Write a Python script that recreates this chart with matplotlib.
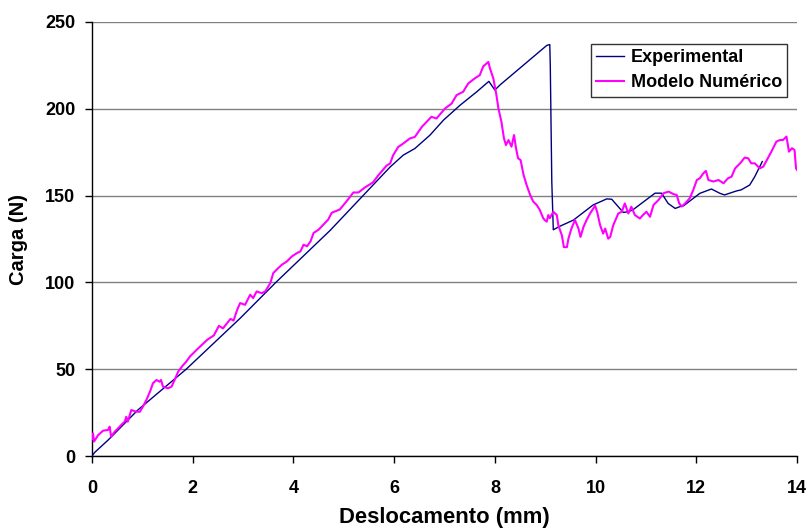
import matplotlib
matplotlib.use("Agg")
import matplotlib.pyplot as plt

# ---- data ----
exp_x = [0, 0.05, 0.32, 0.91, 1.87, 2.94, 3.65, 4.73, 5.92, 6.18, 6.41, 6.71, 6.98,
         7.31, 7.64, 7.88, 8.0, 8.1, 9.03, 9.09, 9.10, 9.13, 9.16, 9.28, 9.56, 9.95,
         10.22, 10.32, 10.45, 10.55, 10.65, 10.74, 11.18, 11.31, 11.44, 11.58, 11.67,
         11.75, 12.07, 12.3, 12.47, 12.56, 12.8, 12.89, 13.06, 13.16, 13.31]
exp_y = [0, 2, 9.2, 26.5, 50, 79.3, 100, 130, 166.5, 173.3, 177.1, 184.8, 193.5,
         202.1, 209.8, 215.8, 210.8, 213.7, 236.5, 237, 225, 158, 130.3, 132.2, 135.9, 144.6,
         148.1, 147.9, 143.6, 140.3, 140.7, 141.8, 151.4, 151.4, 145.5, 142.6, 143.6,
         144.2, 151.3, 153.8, 151.3, 150.4, 152.7, 153.3, 156.1, 160.9, 169.6]

num_x = [0.0, 0.02, 0.04, 0.12, 0.22, 0.32, 0.35, 0.38, 0.45, 0.52, 0.58, 0.65, 0.68,
         0.71, 0.78, 0.88, 0.95, 1.01, 1.08, 1.15, 1.21, 1.28, 1.34, 1.37, 1.41, 1.51,
         1.58, 1.64, 1.71, 1.81, 1.87, 1.95, 2.09, 2.29, 2.42, 2.52, 2.60, 2.75, 2.81,
         2.88, 2.94, 3.04, 3.14, 3.2, 3.27, 3.37, 3.44, 3.54, 3.6, 3.7, 3.77, 3.87,
         3.97, 4.07, 4.14, 4.2, 4.27, 4.34, 4.4, 4.5, 4.53, 4.69, 4.76, 4.92, 5.06,
         5.19, 5.29, 5.42, 5.58, 5.68, 5.85, 5.92, 5.98, 6.08, 6.18, 6.31, 6.41, 6.55,
         6.74, 6.84, 7.01, 7.14, 7.24, 7.37, 7.47, 7.6, 7.7, 7.77, 7.87, 7.9, 7.97,
         8.03, 8.07, 8.13, 8.18, 8.22, 8.27, 8.33, 8.38, 8.42, 8.46, 8.51, 8.57, 8.63,
         8.7, 8.76, 8.83, 8.89, 8.96, 8.99, 9.03, 9.06, 9.09, 9.16, 9.23, 9.26, 9.33,
         9.37, 9.43, 9.46, 9.52, 9.59, 9.66, 9.7, 9.76, 9.82, 9.89, 9.99, 10.03, 10.09,
         10.15, 10.19, 10.25, 10.29, 10.35, 10.45, 10.52, 10.58, 10.65, 10.71, 10.78,
         10.88, 10.94, 11.01, 11.08, 11.15, 11.25, 11.35, 11.45, 11.55, 11.61, 11.66,
         11.71, 11.78, 11.87, 11.94, 12.01, 12.07, 12.14, 12.19, 12.24, 12.34, 12.44,
         12.54, 12.63, 12.7, 12.77, 12.87, 12.96, 13.03, 13.09, 13.16, 13.26, 13.33,
         13.42, 13.49, 13.59, 13.66, 13.72, 13.79, 13.84, 13.9, 13.95, 13.98, 14.0]
num_y = [10, 13, 8.3, 12, 14.6, 15, 16.9, 11.1, 14, 16, 17.9, 19.8, 22.6,
         19.8, 26.5, 25.5, 25.5, 28.4, 32.3, 37, 41.9, 43.8, 42.8, 43.8, 39.9, 39,
         40, 43.8, 48.6, 52.4, 54.3, 57.5, 61.5, 67, 69.5, 75, 73.5, 79, 78,
         84, 88.1, 87.1, 92.9, 91, 94.8, 93.8, 94.8, 99.6, 105.4, 108.3, 110.2, 112.1,
         115, 116.9, 117.9, 121.7, 120.8, 123.7, 128.5, 130.4, 131.3, 136.2, 140.1, 142, 146.9,
         151.8, 151.8, 154.7, 157.6, 161.5, 167.3, 168.5, 173.3, 178, 180, 182.9, 183.8, 189.6,
         195.4, 194.4, 200.2, 203, 207.9, 209.8, 214.6, 217.5, 219.4, 224.5, 227, 223.5, 217.4,
         208, 200.2, 192.5, 183, 179.1, 182, 178.2, 184.9, 177.2, 171.5, 170.5, 161.9, 156.1,
         150.4, 146.6, 144.6, 141.8, 137, 135.9, 135, 138.8, 137, 140.7, 138.8, 132.9, 127.1,
         120.3, 120.3, 125.2, 131, 135.9, 131, 126.2, 132, 135.9, 139.7, 144.2, 140.7, 132.9,
         128.1, 131, 125.2, 126.2, 132.9, 139.7, 140.7, 145.5, 139.7, 143.6, 138.8,
         136.8, 138.8, 140.7, 137.8, 144.6, 147.5, 151.4, 152.3, 150.8, 150.4, 145.5,
         143.7, 145.6, 148.5, 153.3, 159, 160, 162.9, 164.2, 159, 158.1, 159,
         157.1, 160, 160.9, 165.7, 168.6, 171.9, 171.5, 168.6, 168.6, 165.7, 166.7,
         171.5, 175.3, 181.1, 182, 182, 184, 175.3, 177.3, 176.3, 165.7, 164.8]

x_ticks = [0, 2, 4, 6, 8, 10, 12, 14]
y_ticks = [0, 50, 100, 150, 200, 250]

plt.rcParams['font.family'] = ['Liberation Sans', 'DejaVu Sans']

fig = plt.figure(figsize=(8.1, 5.3), dpi=100)
ax = fig.add_axes([0.1136, 0.1396, 0.8704, 0.8189])

ax.plot(exp_x, exp_y, color='#000080', lw=1.0, label='Experimental', zorder=3)
ax.plot(num_x, num_y, color='#FF00FF', lw=1.5, label='Modelo Numérico', zorder=4)

ax.set_xlim(0, 14)
ax.set_ylim(0, 250)
ax.set_xticks(x_ticks)
ax.set_yticks(y_ticks)
ax.yaxis.grid(True, color='#808080', lw=1.0)
ax.set_axisbelow(True)
for s in ['top', 'right']:
    ax.spines[s].set_visible(False)
for s in ['left', 'bottom']:
    ax.spines[s].set_color('black')
    ax.spines[s].set_linewidth(1.0)

ax.tick_params(axis='both', direction='out', length=5, width=1, labelsize=13)
for lab in ax.get_xticklabels() + ax.get_yticklabels():
    lab.set_fontweight('bold')
ax.tick_params(axis='x', pad=12)
ax.tick_params(axis='y', pad=7)

ax.set_xlabel('Deslocamento (mm)', fontsize=15.8, fontweight='bold', labelpad=7.5)
ax.set_ylabel('Carga (N)', fontsize=14.5, fontweight='bold', labelpad=12)

leg = ax.legend(loc='upper right', bbox_to_anchor=(0.986, 0.95),
                prop={'weight': 'bold', 'size': 13}, frameon=True, fancybox=False,
                handlelength=1.55, handletextpad=0.35, borderpad=0.3, labelspacing=0.45,
                borderaxespad=0)
leg.get_frame().set_edgecolor('black')
leg.get_frame().set_linewidth(1.0)

fig.savefig('out.png', dpi=100)
